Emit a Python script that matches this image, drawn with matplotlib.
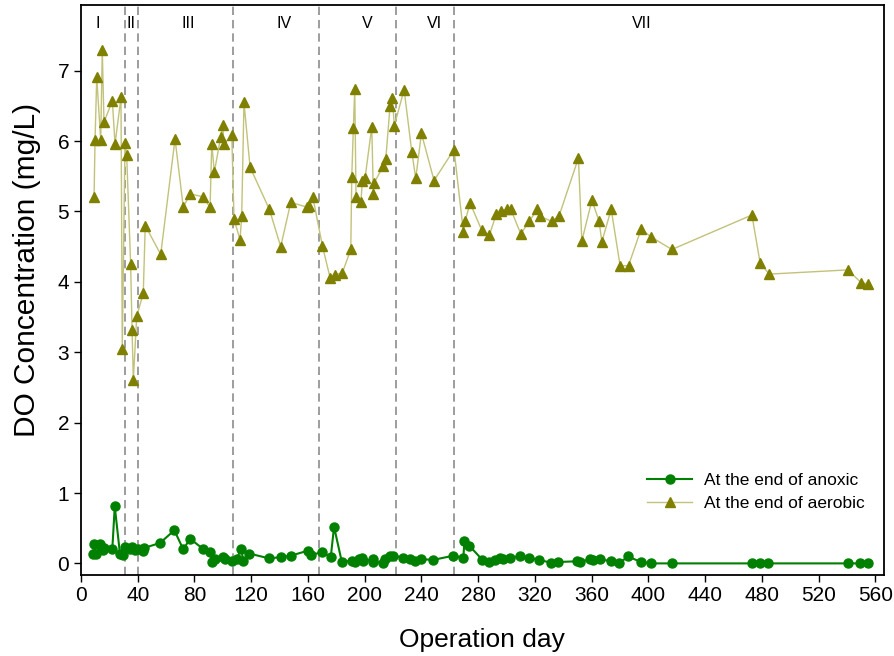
import matplotlib
matplotlib.use("Agg")
import matplotlib.pyplot as plt

plt.rcParams['font.family'] = ['Liberation Sans', 'DejaVu Sans']

# DO at the end of the aerobic phase
aer_day = [9.2, 9.9, 11.1, 13.9, 15.0, 16.2, 22.1, 24.0, 28.2, 29.1, 31.0, 32.2, 35.0, 36.0,
           36.9, 39.3, 43.9, 45.3, 56.2, 66.3, 72.1, 76.9, 85.8, 91.0, 92.2, 94.0, 98.5, 99.9,
           100.8, 106.3, 107.9, 112.1, 113.3, 114.9, 119.2, 132.8, 140.8, 147.9, 159.6, 161.0,
           163.4, 170.2, 175.6, 179.1, 184.3, 190.2, 190.9, 192.0, 193.0, 193.9, 197.3, 198.4,
           200.3, 205.0, 206.1, 206.8, 213.2, 214.9, 217.9, 219.5, 220.9, 227.8, 233.2, 236.0,
           240.0, 248.9, 263.0, 269.6, 270.8, 274.3, 282.6, 287.9, 292.7, 296.2, 300.2, 303.0,
           310.1, 315.9, 321.8, 323.7, 331.9, 337.1, 350.7, 353.1, 360.2, 365.3, 367.2, 373.8,
           380.1, 386.0, 394.9, 401.8, 416.6, 473.0, 478.8, 485.2, 540.7, 549.9, 554.8]
aer_do = [5.20, 6.01, 6.91, 6.01, 7.30, 6.27, 6.57, 5.96, 6.62, 3.04, 5.97, 5.80, 4.25, 3.32,
          2.61, 3.51, 3.84, 4.80, 4.39, 6.03, 5.06, 5.25, 5.21, 5.06, 5.96, 5.56, 6.06, 6.23,
          5.96, 6.08, 4.89, 4.60, 4.93, 6.55, 5.63, 5.03, 4.50, 5.13, 5.06, 5.08,
          5.21, 4.51, 4.06, 4.10, 4.13, 4.46, 5.49, 6.18, 6.74, 5.21, 5.13, 5.43,
          5.48, 6.20, 5.25, 5.41, 5.65, 5.75, 6.50, 6.61, 6.22, 6.73, 5.85, 5.47,
          6.11, 5.44, 5.88, 4.71, 4.86, 5.12, 4.73, 4.66, 4.96, 5.01, 5.03, 5.03,
          4.68, 4.86, 5.03, 4.93, 4.86, 4.94, 5.76, 4.58, 5.16, 4.86, 4.57, 5.03,
          4.23, 4.23, 4.75, 4.64, 4.46, 4.95, 4.27, 4.11, 4.17, 3.99, 3.97]

# DO at the end of the anoxic phase
ano_day = [8.7, 9.2, 10.6, 13.4, 15.3, 16.2, 22.1, 23.8, 27.5, 29.4, 31.0, 34.6, 36.2, 38.1,
           40.4, 43.9, 44.6, 55.7, 65.8, 72.1, 76.9, 85.8, 91.0, 92.4, 94.5, 99.9, 101.6,
           106.3, 109.8, 112.8, 114.5, 118.7, 132.8, 140.8, 147.9, 159.9, 162.2, 170.2, 176.1,
           178.4, 183.9, 190.9, 193.2, 196.0, 198.0, 199.1, 205.7, 206.1, 212.8, 214.4, 217.9,
           220.3, 227.3, 232.0, 235.5, 239.6, 248.4, 262.6, 269.6, 270.3, 273.8, 283.0, 287.7,
           291.9, 295.5, 297.8, 302.5, 309.6, 315.9, 323.0, 331.2, 336.6, 350.0, 351.9, 359.0,
           361.3, 366.0, 373.6, 379.6, 385.5, 394.7, 401.8, 416.6, 473.0, 478.8, 484.0, 540.4,
           549.4, 554.5]
ano_do = [0.14, 0.27, 0.13, 0.27, 0.19, 0.22, 0.21, 0.81, 0.13, 0.12, 0.23, 0.20, 0.24, 0.19,
          0.20, 0.17, 0.22, 0.29, 0.47, 0.20, 0.35, 0.21, 0.16, 0.02, 0.06, 0.09, 0.06,
          0.04, 0.06, 0.21, 0.04, 0.14, 0.07, 0.09, 0.11, 0.18, 0.12, 0.16, 0.09,
          0.52, 0.02, 0.04, 0.02, 0.06, 0.07, 0.03, 0.06, 0.02, 0.01, 0.06, 0.10,
          0.11, 0.08, 0.06, 0.03, 0.06, 0.05, 0.11, 0.08, 0.32, 0.25, 0.05, 0.02,
          0.05, 0.07, 0.06, 0.07, 0.11, 0.08, 0.05, 0.01, 0.02, 0.03, 0.02, 0.06,
          0.05, 0.06, 0.03, 0.00, 0.10, 0.02, 0.00, 0.00, 0.00, 0.00, 0.00, 0.00,
          0.00, 0.00]

# phase boundaries and labels
bounds = [31, 40, 107, 168, 222, 263]
phases = ['I', 'II', 'III', 'IV', 'V', 'VI', 'VII']
phase_x = [11.5, 35.5, 75.5, 143.5, 202, 249, 395]

fig = plt.figure(figsize=(8.95, 6.56), dpi=100)
ax = fig.add_axes([0.0905, 0.124, 0.897, 0.868])

for b in bounds:
    ax.axvline(b, color='#8c8c8c', ls=(0, (5, 3)), lw=1.2, zorder=1)
for lab, px in zip(phases, phase_x):
    ax.text(px, 7.67, lab, ha='center', va='center', fontsize=11.5)

ax.plot(ano_day, ano_do, color='#008000', marker='o', ms=6.5, lw=1.5,
        label='At the end of anoxic', zorder=3)
ax.plot(aer_day, aer_do, color='#c2c27a', marker='^', ms=6.5, lw=1.0,
        mfc='#808000', mec='#808000', label='At the end of aerobic', zorder=3)

ax.set_xlim(0, 566)
ax.set_ylim(-0.16, 7.93)
ax.set_xticks(range(0, 561, 40))
ax.set_yticks(range(0, 8))
ax.tick_params(labelsize=15, direction='out', length=5, width=1)
for s in ax.spines.values():
    s.set_linewidth(1.3)

ax.set_xlabel('Operation day', fontsize=19, labelpad=16)
ax.set_ylabel('DO Concentration (mg/L)', fontsize=21.5)
ax.yaxis.set_label_coords(-0.05, 0.535)

ax.legend(loc='lower right', bbox_to_anchor=(0.996, 0.085), frameon=False,
          fontsize=12.5, handlelength=2.6, labelspacing=0.45, handletextpad=0.7)

plt.savefig('out.png', dpi=100)
